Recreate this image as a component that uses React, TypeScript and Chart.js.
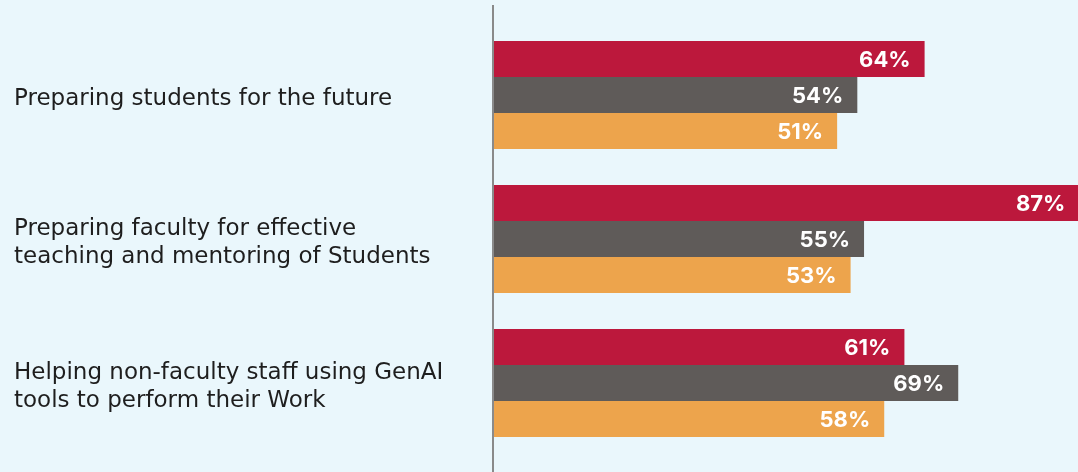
import React, { useEffect, useRef } from "react";
import { Chart, registerables } from "chart.js";

Chart.register(...registerables);

const categories: string[][] = [
  ["Preparing students for the future"],
  ["Preparing faculty for effective", "teaching and mentoring of Students"],
  ["Helping non-faculty staff using GenAI", "tools to perform their Work"],
];
const seriesA = [64, 87, 61];
const seriesB = [54, 55, 69];
const seriesC = [51, 53, 58];
const seriesNames = ["Series A", "Series B", "Series C"];
const colors = ["#bc183c", "#5f5b59", "#eda44c"];

const BG = "#eaf7fc";

const valueLabels = {
  id: "valueLabels",
  afterDatasetsDraw(chart: any) {
    const ctx = chart.ctx;
    ctx.save();
    ctx.font = "700 22px Inter";
    ctx.fillStyle = "#ffffff";
    ctx.textAlign = "right";
    ctx.textBaseline = "middle";
    chart.data.datasets.forEach((ds: any, i: number) => {
      const meta = chart.getDatasetMeta(i);
      meta.data.forEach((bar: any, j: number) => {
        ctx.fillText(ds.data[j] + "%", bar.x - 14, bar.y + 1);
      });
    });
    ctx.restore();
  },
};

const axisLine = {
  id: "axisLine",
  afterDatasetsDraw(chart: any) {
    const ctx = chart.ctx;
    const x = chart.scales.x.getPixelForValue(0);
    ctx.save();
    ctx.strokeStyle = "#8a8a8a";
    ctx.lineWidth = 2;
    ctx.beginPath();
    ctx.moveTo(x - 1, 5);
    ctx.lineTo(x - 1, chart.height);
    ctx.stroke();
    ctx.restore();
  },
};

const labelNudge = {
  id: "labelNudge",
  beforeDraw(chart: any) {
    const items = chart.scales.y.getLabelItems();
    if (items && !items._nudged) {
      items.forEach((it: any) => {
        it.options.translation[1] += 4;
      });
      items._nudged = true;
    }
  },
};

export default function App() {
  const ref = useRef<HTMLCanvasElement>(null);
  useEffect(() => {
    const chart = new Chart(ref.current!, {
      type: "bar",
      data: {
        labels: categories as any,
        datasets: [seriesA, seriesB, seriesC].map((d, i) => ({
          label: seriesNames[i],
          data: d,
          backgroundColor: colors[i],
          borderWidth: 0,
          categoryPercentage: 0.75,
          barPercentage: 1,
        })),
      },
      options: {
        indexAxis: "y",
        animation: false,
        responsive: false,
        maintainAspectRatio: false,
        layout: { padding: { top: 23, bottom: 17, left: 14, right: 0 } },
        plugins: { legend: { display: false }, tooltip: { enabled: false } },
        scales: {
          x: { display: false, min: 0, max: 86.8 },
          y: {
            grid: { display: false },
            border: { display: false },
            ticks: {
              crossAlign: "far",
              color: "#1e1e1e",
              font: { family: "DejaVu Sans", size: 23, lineHeight: 1.22 },
              padding: 0,
            },
            afterFit(scale: any) {
              scale.width = 480;
              scale.paddingTop = 0;
              scale.paddingBottom = 0;
            },
          },
        },
      },
      plugins: [labelNudge, valueLabels, axisLine],
    });
    return () => chart.destroy();
  }, []);
  return (
    <div style={{ position: "fixed", left: 0, top: 0, width: 1078, height: 472, background: BG }}>
      <canvas ref={ref} width={1078} height={472} style={{ display: "block" }} />
    </div>
  );
}
